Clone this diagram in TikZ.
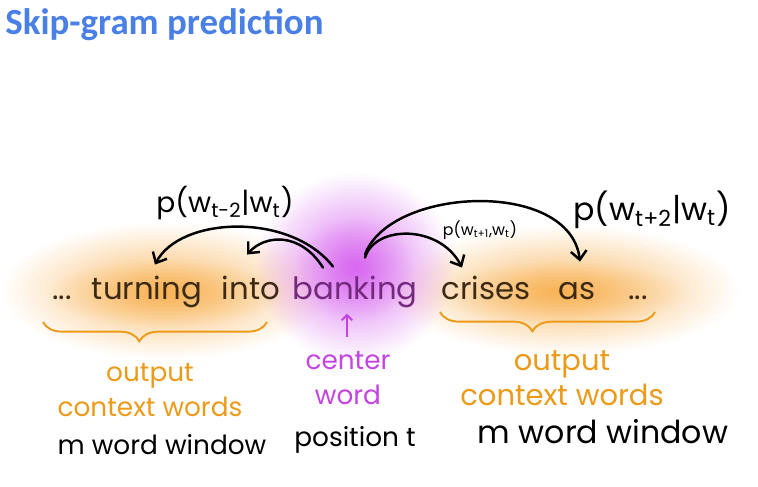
\documentclass[tikz,border=0pt]{standalone}
\usepackage{fontspec}
\setmainfont{Poppins}
\newfontfamily\titlefont{Carlito}
\usetikzlibrary{arrows.meta,calc,decorations.pathreplacing,fadings}
\definecolor{skiptitle}{HTML}{4A80E6}
\definecolor{skiporange}{HTML}{EC9A1A}
\definecolor{skipglow}{HTML}{F7A63A}
\definecolor{skippurple}{HTML}{C443E2}
\definecolor{skipmist}{HTML}{D45AEE}
\definecolor{skipbank}{HTML}{74297F}
\definecolor{skipword}{HTML}{3C2A14}
\tikzfading[name=glowfade,inner color=transparent!0,outer color=transparent!100]

\begin{document}
\begin{tikzpicture}[x=0.02cm,y=0.02cm,
  glow/.style={path fading=glowfade,draw=none},
  ctxword/.style={font=\fontsize{17.5}{20}\selectfont,text=skipword,
    inner sep=0pt,text height=12pt,text depth=3pt,anchor=base},
  centerword/.style={ctxword,text=skipbank},
  problabel/.style={font=\fontsize{16}{18}\selectfont,inner sep=0pt},
  predarrow/.style={-{Straight Barb[length=5pt,width=9pt]},line width=1.4pt,
    line cap=round},
  wordbrace/.style={decorate,decoration={brace,mirror,amplitude=11pt,
    aspect=0.43},draw=skiporange,line width=1.1pt},
  notelabel/.style={font=\fontsize{15}{20}\selectfont,align=center,
    inner sep=0pt}
]
  \useasboundingbox (0,0) rectangle (758,487);

  \node[font=\titlefont\bfseries\fontsize{21}{24}\selectfont,text=skiptitle,
    anchor=base west,inner sep=0pt] (title) at (5,452) {Skip-gram prediction};

  \fill[glow,skipglow,opacity=0.75] (0,128) rectangle (330,265);
  \fill[glow,skipglow,opacity=0.5] (45,160) rectangle (285,228);
  \fill[glow,skipglow,opacity=0.75] (390,132) rectangle (740,262);
  \fill[glow,skipglow,opacity=0.5] (430,162) rectangle (690,226);
  \fill[glow,skipmist,opacity=0.85] (255,125) rectangle (455,315);
  \fill[glow,skipmist,opacity=0.45] (295,165) rectangle (415,270);

  \node[ctxword] (dotsl) at (62,187) {...};
  \node[ctxword] (turning) at (147,187) {turning};
  \node[ctxword] (into) at (251,187) {into};
  \node[centerword] (banking) at (355,187) {banking};
  \node[ctxword] (crises) at (486,187) {crises};
  \node[ctxword] (as) at (577,187) {as};
  \node[ctxword] (dotsr) at (638,187) {...};

  \node[problabel] (pleft) at (225,284)
    {p(w\textsubscript{t-2}|w\textsubscript{t})};
  \node[problabel,font=\fontsize{9}{11}\selectfont] (pnear) at (480,257)
    {p(w\textsubscript{t+1},w\textsubscript{t})};
  \node[problabel,font=\fontsize{18}{20}\selectfont] (pright) at (652,277)
    {p(w\textsubscript{t+2}|w\textsubscript{t})};

  \draw[predarrow] ($(banking.north)+(-22,12)$)
    .. controls +(-43,55) and +(25,48) .. ($(turning.north)+(8,14)$);
  \draw[predarrow] ($(banking.north)+(-32,11)$)
    .. controls +(-23,36) and +(18,20) .. ($(into.north)+(-4,24)$);
  \draw[predarrow] ($(banking.north)+(10,21)$)
    .. controls +(10,33) and +(-22,43) .. ($(crises.north)+(-24,11)$);
  \draw[predarrow] ($(banking.north)+(10,24)$)
    .. controls +(25,68) and +(-10,83) .. ($(as.north)+(3,17)$);

  \draw[wordbrace] ($(dotsl.base)+(-19,-22)$) -- ($(into.base)+(16,-22)$);
  \draw[wordbrace] ($(crises.base)+(-46,-12)$) -- ($(dotsr.base)+(17,-12)$);

  \node[notelabel,text=skiporange] (outleft) at (150,97)
    {output\\context words};
  \node[notelabel] (winleft) at (162,42) {m word window};
  \node[notelabel,text=skippurple] (centerlbl) at (348,109)
    {center\\word};
  \node[notelabel] (position) at (355,47) {position t};
  \node[notelabel,text=skiporange,font=\fontsize{16.5}{20}\selectfont]
    (outright) at (562,109) {output\\context words};
  \node[notelabel,font=\fontsize{18}{20}\selectfont] (winright)
    at (603,55) {m word window};

  \draw[-{Straight Barb[length=3pt,width=6pt]},draw=skippurple,
    line width=1.1pt] ($(centerlbl.north)+(-1,14)$)
    -- ($(banking.south)+(-8,-8)$);
\end{tikzpicture}
\end{document}
